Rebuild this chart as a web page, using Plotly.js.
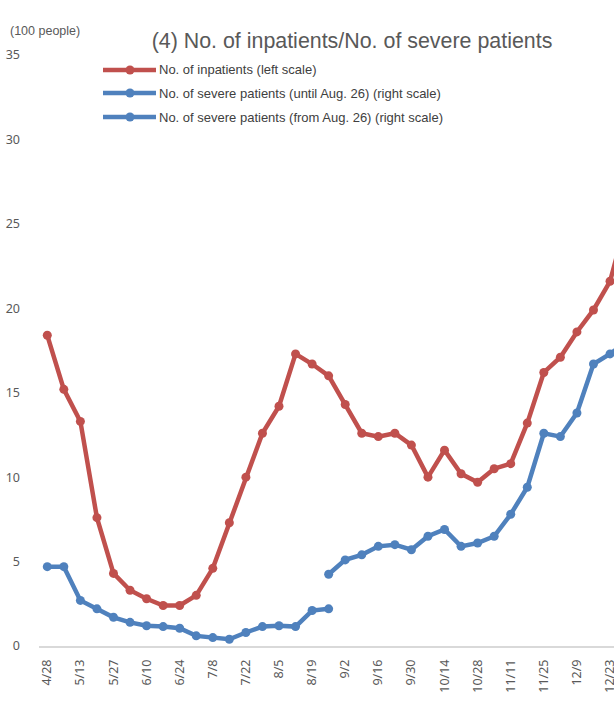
<!DOCTYPE html>
<html>
<head>
<meta charset="utf-8">
<script src="https://cdn.plot.ly/plotly-3.0.1.min.js"></script>
<style>html,body{margin:0;padding:0;background:#fff;}#chart{width:614px;height:707px;}</style>
</head>
<body>
<div id="chart"></div>
<script>
// Weekly categories (x axis)
var dates = ["4/28","5/6","5/13","5/20","5/27","6/3","6/10","6/17","6/24","7/1","7/8","7/15","7/22","7/29",
  "8/5","8/12","8/19","8/26","9/2","9/9","9/16","9/23","9/30","10/7","10/14","10/21","10/28","11/4",
  "11/11","11/18","11/25","12/2","12/9","12/16","12/23","12/30"];
// Tick labels shown (every other week)
var tickLabels = ["4/28","5/13","5/27","6/10","6/24","7/8","7/22","8/5","8/19","9/2","9/16","9/30",
  "10/14","10/28","11/11","11/25","12/9","12/23"];

// No. of inpatients (left scale, 100 people)
var inpatients = [18.4,15.2,13.3,7.6,4.3,3.3,2.8,2.4,2.4,3.0,4.6,7.3,10.0,12.6,14.2,17.3,16.7,16.0,
  14.3,12.6,12.4,12.6,11.9,10.0,11.6,10.2,9.7,10.5,10.8,13.2,16.2,17.1,18.6,19.9,21.6,25.2];

// No. of severe patients until Aug. 26 (right scale, people)
var severeDates1 = dates.slice(0, 18);
var severeUntil = [94,94,54,44,34,28,24,23,21,12,10,8,16,23,24,23,42,44];

// No. of severe patients from Aug. 26 (right scale, people)
var severeDates2 = dates.slice(17);
var severeFrom = [85,102,108,118,120,114,130,138,118,122,130,156,188,252,248,276,334,346,360];

var red = "#C0504D", blue = "#4F81BD";
var L = 39, R = 614, T = 55, B = 646;
function px(x){ return (x - L) / (R - L); }
function py(y){ return (B - y) / (B - T); }

var traces = [
  {x: dates, y: inpatients, type: "scatter", mode: "lines+markers", name: "No. of inpatients (left scale)",
   line: {color: red, width: 4.5}, marker: {color: red, size: 9}, yaxis: "y", cliponaxis: true},
  {x: severeDates1, y: severeUntil, type: "scatter", mode: "lines+markers",
   name: "No. of severe patients (until Aug. 26) (right scale)",
   line: {color: blue, width: 4.5}, marker: {color: blue, size: 9}, yaxis: "y2", cliponaxis: true},
  {x: severeDates2, y: severeFrom, type: "scatter", mode: "lines+markers",
   name: "No. of severe patients (from Aug. 26) (right scale)",
   line: {color: blue, width: 4.5}, marker: {color: blue, size: 9}, yaxis: "y2", cliponaxis: true}
];

var legendRows = [
  {text: traces[0].name, color: red, y: 70},
  {text: traces[1].name, color: blue, y: 93},
  {text: traces[2].name, color: blue, y: 117}
];
var shapes = [], annotations = [];
legendRows.forEach(function(r){
  shapes.push({type: "line", xref: "paper", yref: "paper", x0: px(103), x1: px(156), y0: py(r.y), y1: py(r.y),
    line: {color: r.color, width: 4.5}});
  shapes.push({type: "circle", xref: "paper", yref: "paper", x0: px(125.5), x1: px(134.5), y0: py(r.y + 4.5), y1: py(r.y - 4.5),
    fillcolor: r.color, line: {color: r.color, width: 0}});
  annotations.push({text: r.text, xref: "paper", yref: "paper", x: px(157), y: py(r.y), xanchor: "left", yanchor: "middle",
    showarrow: false, font: {family: "Liberation Sans, Arial, sans-serif", size: 13, color: "#404040"}});
});
annotations.push({text: "(100 people)", xref: "paper", yref: "paper", x: px(8), y: py(31), xanchor: "left", yanchor: "middle",
  showarrow: false, font: {family: "Liberation Sans, Arial, sans-serif", size: 12.5, color: "#595959"}});

var layout = {
  width: 614, height: 707,
  margin: {l: L, r: 614 - R, t: T, b: 707 - B, pad: 0},
  paper_bgcolor: "#fff", plot_bgcolor: "#fff",
  showlegend: false,
  title: {text: "(4) No. of inpatients/No. of severe patients", xref: "container", yref: "container",
    x: 352 / 614, y: 1 - 41 / 707, xanchor: "center", yanchor: "middle",
    font: {family: "Liberation Sans, Arial, sans-serif", size: 21.4, color: "#595959"}},
  xaxis: {type: "category", categoryorder: "array", categoryarray: dates, range: [-0.5, 34.24],
    tickmode: "array", tickvals: tickLabels, ticktext: tickLabels, tickangle: -90,
    showgrid: false, zeroline: false, showline: true, linecolor: "#D9D9D9", linewidth: 1.5,
    ticks: "outside", ticklen: 7, tickcolor: "rgba(0,0,0,0)",
    tickfont: {family: "Noto Sans, Open Sans, sans-serif", size: 12.5, color: "#595959"}, fixedrange: true},
  yaxis: {range: [0, 35], tickvals: [0,5,10,15,20,25,30,35], showgrid: false, zeroline: false, showline: false,
    ticks: "", ticklabelstandoff: 18,
    tickfont: {family: "Noto Sans, Open Sans, sans-serif", size: 12.5, color: "#595959"}},
  yaxis2: {range: [0, 700], overlaying: "y", side: "right", visible: false},
  shapes: shapes,
  annotations: annotations
};

Plotly.newPlot("chart", traces, layout, {staticPlot: true});
</script>
</body>
</html>
